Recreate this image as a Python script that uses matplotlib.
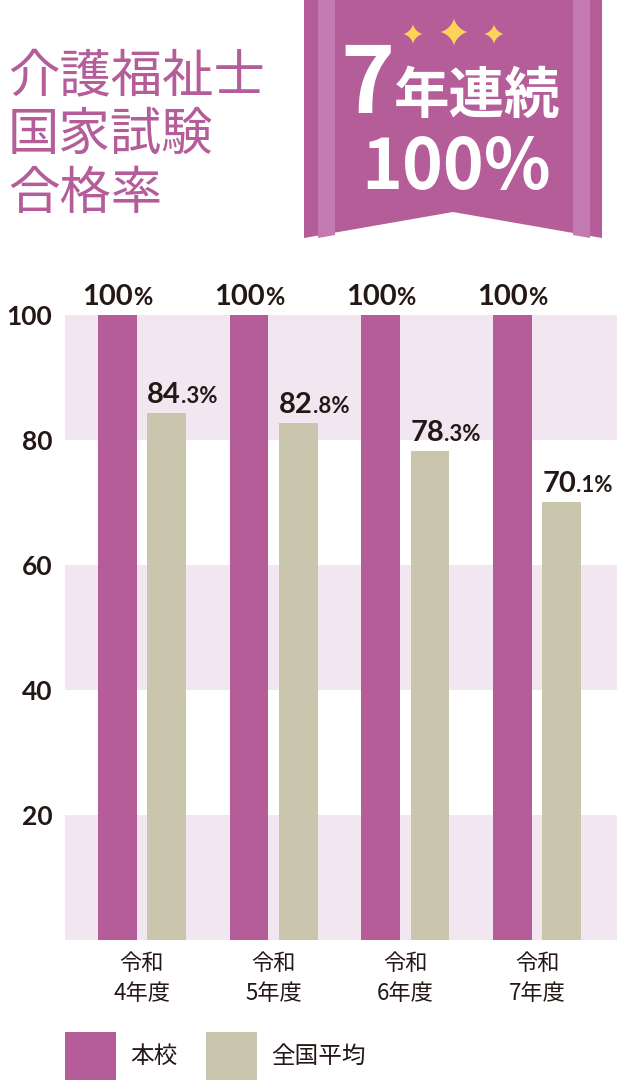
import matplotlib
matplotlib.use("Agg")
import matplotlib.pyplot as plt
from matplotlib.patches import Polygon, Rectangle
import numpy as np

plt.rcParams['font.family'] = ['Lato', 'Noto Sans CJK JP', 'DejaVu Sans']

# ---- data ----
years = ["令和\n4年度", "令和\n5年度", "令和\n6年度", "令和\n7年度"]
school = [100, 100, 100, 100]
national = [84.3, 82.8, 78.3, 70.1]
school_labels = [("100", "%"), ("100", "%"), ("100", "%"), ("100", "%")]
national_labels = [("84", ".3%"), ("82", ".8%"), ("78", ".3%"), ("70", ".1%")]
yticks = [20, 40, 60, 80, 100]
series_names = ["本校", "全国平均"]
title_text = "介護福祉士\n国家試験\n合格率"

PURPLE = "#b45d99"
BEIGE = "#c9c6ad"
BAND = "#f2e6f1"
DARK = "#231815"
STRIPE = "#c27ab0"
GOLD = "#fdd35a"

DPI = 100
fig = plt.figure(figsize=(6.24, 10.8), dpi=DPI)

ax = fig.add_axes([65/624, 140/1080, 552/624, 625/1080])
ax.set_ylim(0, 100)
ax.set_xlim(-0.583, 3.606)
for lo, hi in [(0, 20), (40, 60), (80, 100)]:
    ax.axhspan(lo, hi, color=BAND, zorder=0, lw=0)

x = np.arange(len(years))
off = 0.187
w = 0.295
ax.bar(x - off, school, w, color=PURPLE, zorder=2)
ax.bar(x + off, national, w, color=BEIGE, zorder=2)

for s in ax.spines.values():
    s.set_visible(False)
ax.set_yticks(yticks)
ax.set_yticklabels([str(t) for t in yticks], fontsize=19, color=DARK, fontweight='bold',
                   family=['Lato', 'DejaVu Sans'])
ax.tick_params(axis='y', length=0, pad=9)
ax.set_xticks(x)
ax.set_xticklabels(years, fontsize=16, color=DARK, linespacing=1.35,
                   family=['Noto Sans CJK JP', 'DejaVu Sans'])
ax.tick_params(axis='x', length=0, pad=9)

renderer = fig.canvas.get_renderer()

def mixed_label(xpos, ypos, big, small, align, dy=7, bigsize=21, smallsize=16):
    t1 = ax.annotate(big, (xpos, ypos), xytext=(0, dy), textcoords='offset points',
                     ha='left', va='baseline', fontsize=bigsize, color=DARK,
                     fontweight='bold', family=['Lato', 'DejaVu Sans'], zorder=5)
    t2 = ax.annotate(small, (xpos, ypos), xytext=(0, dy), textcoords='offset points',
                     ha='left', va='baseline', fontsize=smallsize, color=DARK,
                     fontweight='bold', family=['Lato', 'DejaVu Sans'], zorder=5)
    w1 = t1.get_window_extent(renderer).width * 72 / DPI
    w2 = t2.get_window_extent(renderer).width * 72 / DPI
    start = -(w1 + w2) / 2 if align == 'center' else 0
    t1.xyann = (start, dy)
    t2.xyann = (start + w1, dy)

for i in range(len(years)):
    mixed_label(x[i] - off, school[i], school_labels[i][0], school_labels[i][1], 'center', bigsize=21, smallsize=17)
    mixed_label(x[i] + off - w / 2, national[i], national_labels[i][0], national_labels[i][1], 'left')

# ---- overlay for title, ribbon, legend ----
ov = fig.add_axes([0, 0, 1, 1], zorder=10)
ov.set_xlim(0, 624)
ov.set_ylim(1080, 0)
ov.axis('off')
ov.patch.set_alpha(0)

ov.text(8, 50, title_text, fontsize=37, color=PURPLE, va='top', ha='left',
        linespacing=1.12, family=['Noto Sans CJK JP', 'DejaVu Sans'])

# ribbon
ov.add_patch(Polygon([(304, 0), (602, 0), (602, 238), (453, 212), (304, 238)],
                     closed=True, color=PURPLE, lw=0))
ov.add_patch(Polygon([(318, 0), (335, 0), (335, 235), (318, 238)], closed=True, color=STRIPE, lw=0))
ov.add_patch(Polygon([(573, 0), (590, 0), (590, 238), (573, 235)], closed=True, color=STRIPE, lw=0))

def sparkle(cx, cy, r):
    pts = []
    n = 64
    for k in range(n):
        a = 2 * np.pi * k / n
        c, s = np.cos(a), np.sin(a)
        px = r * np.sign(c) * abs(c) ** 3
        py = r * np.sign(s) * abs(s) ** 3
        pts.append((cx + px, cy + py))
    ov.add_patch(Polygon(pts, closed=True, color=GOLD, lw=0))

sparkle(413, 34, 10)
sparkle(454, 32, 14)
sparkle(494, 34, 10)

ov.text(367, 113, "7", fontsize=66, color='white', fontweight='bold', ha='center', va='baseline',
        family=['Noto Sans CJK JP', 'DejaVu Sans'])
ov.text(477, 113, "年連続", fontsize=40, color='white', fontweight='bold', ha='center', va='baseline',
        family=['Noto Sans CJK JP', 'DejaVu Sans'])
ov.text(456, 189, "100%", fontsize=50, color='white', fontweight='bold', ha='center', va='baseline',
        family=['Noto Sans CJK JP', 'DejaVu Sans'])

# legend
ov.add_patch(Rectangle((65, 1032), 51, 51, color=PURPLE, lw=0))
ov.text(130, 1056, series_names[0], fontsize=17, color=DARK, va='center', ha='left',
        family=['Noto Sans CJK JP', 'DejaVu Sans'])
ov.add_patch(Rectangle((206, 1032), 51, 51, color=BEIGE, lw=0))
ov.text(271, 1056, series_names[1], fontsize=17, color=DARK, va='center', ha='left',
        family=['Noto Sans CJK JP', 'DejaVu Sans'])

fig.savefig("out.png", dpi=DPI)
